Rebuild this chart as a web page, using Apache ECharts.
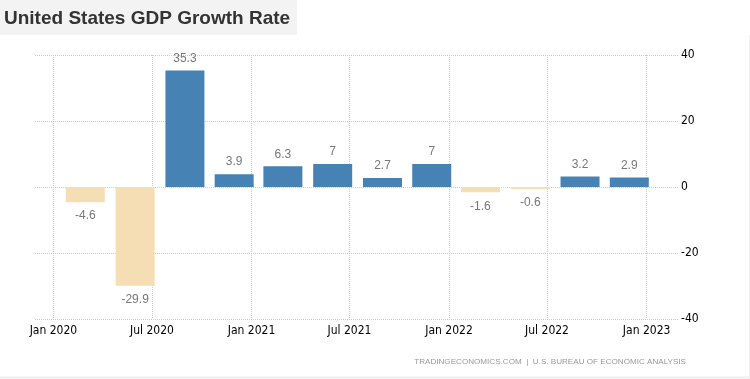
<!DOCTYPE html>
<html>
<head>
<meta charset="utf-8">
<script src="https://cdn.jsdelivr.net/npm/echarts@6/dist/echarts.min.js"></script>
<style>
html,body{margin:0;padding:0;background:#fff;}
#chart{width:750px;height:379px;}
</style>
</head>
<body>
<div id="chart"></div>
<script>
// Data (quarterly US GDP growth, annualized QoQ %)
var quarters = ['2020 Q1','2020 Q2','2020 Q3','2020 Q4','2021 Q1','2021 Q2','2021 Q3','2021 Q4','2022 Q1','2022 Q2','2022 Q3','2022 Q4'];
var barDates = ['2020-02-29','2020-05-31','2020-08-31','2020-11-30','2021-02-28','2021-05-31','2021-08-31','2021-11-30','2022-02-28','2022-05-31','2022-08-31','2022-11-30'];
var gdpGrowth = [-4.6, -29.9, 35.3, 3.9, 6.3, 7, 2.7, 7, -1.6, -0.6, 3.2, 2.9];
var xTickDates = ['2020-01-01','2020-07-01','2021-01-01','2021-07-01','2022-01-01','2022-07-01','2023-01-01'];
var xTickLabels = ['Jan 2020','Jul 2020','Jan 2021','Jul 2021','Jan 2022','Jul 2022','Jan 2023'];
var yTicks = [-40, -20, 0, 20, 40];
var titleText = 'United States GDP Growth Rate';
var sourceText = 'TRADINGECONOMICS.COM  |  U.S. BUREAU OF ECONOMIC ANALYSIS';

function parseDate(s){
  var p = s.split('-');
  return Date.UTC(+p[0], +p[1]-1, +p[2]);
}
var tickTs = xTickDates.map(parseDate);
var labelByTs = {};
tickTs.forEach(function(t,i){ labelByTs[t] = xTickLabels[i]; });

var POS = '#4682B4', NEG = '#F5DEB3';
var barData = gdpGrowth.map(function(v,i){
  return {
    name: quarters[i],
    value: [parseDate(barDates[i]), v],
    itemStyle: {color: v >= 0 ? POS : NEG},
    label: {position: v >= 0 ? 'top' : 'bottom', distance: v >= 0 ? 6 : 8}
  };
});

var chart = echarts.init(document.getElementById('chart'), null, {renderer:'canvas'});
var gridLine = {show:true, lineStyle:{color:'#cccccc', type:'dotted', width:1}};
var axisFont = '"DejaVu Sans Condensed", "Liberation Sans", Arial, sans-serif';

chart.setOption({
  animation: false,
  backgroundColor: '#ffffff',
  grid: {left: 35, right: 72, top: 55, bottom: 60, containLabel: false},
  xAxis: {
    type: 'value',
    scale: true,
    min: parseDate('2019-11-28'),
    max: parseDate('2023-02-28'),
    axisLine: {show: false},
    axisTick: {show: true, length: 4, customValues: tickTs, lineStyle:{color:'#cccccc', type:'dotted'}},
    splitLine: gridLine,
    axisLabel: {
      customValues: tickTs,
      formatter: function(v){ return labelByTs[v] || ''; },
      color: '#000000',
      fontFamily: axisFont,
      fontSize: 12,
      margin: 6,
      hideOverlap: false
    }
  },
  yAxis: {
    type: 'value',
    position: 'right',
    min: yTicks[0],
    max: yTicks[yTicks.length-1],
    interval: 20,
    axisLine: {show: false},
    axisTick: {show: false},
    splitLine: gridLine,
    axisLabel: {
      color: '#000000',
      fontFamily: axisFont,
      fontSize: 12,
      margin: 3
    }
  },
  series: [{
    type: 'bar',
    data: barData,
    barWidth: 39,
    label: {
      show: true,
      color: '#777777',
      fontFamily: '"Liberation Sans", Arial, sans-serif',
      fontSize: 12,
      formatter: function(p){ return String(p.value[1]); }
    }
  }],
  graphic: [
    {type:'rect', left:0, top:0, shape:{x:0,y:0,width:297,height:35}, style:{fill:'#f3f3f3'}, z:-10},
    {type:'text', x:4, y:19, style:{text:titleText, fill:'#333333', font:'bold 19px "Liberation Sans", Arial, sans-serif', textVerticalAlign:'middle'}},
    {type:'text', x:686, y:362, style:{text:sourceText, fill:'#999999', font:'8.1px "Liberation Sans", Arial, sans-serif', textAlign:'right', textVerticalAlign:'middle'}},
    {type:'line', shape:{x1:0,y1:377.5,x2:750,y2:377.5}, style:{stroke:'#eeeeee', lineWidth:2}},
    {type:'line', shape:{x1:749.5,y1:35,x2:749.5,y2:379}, style:{stroke:'#f0f0f0', lineWidth:1}}
  ]
});
</script>
</body>
</html>
